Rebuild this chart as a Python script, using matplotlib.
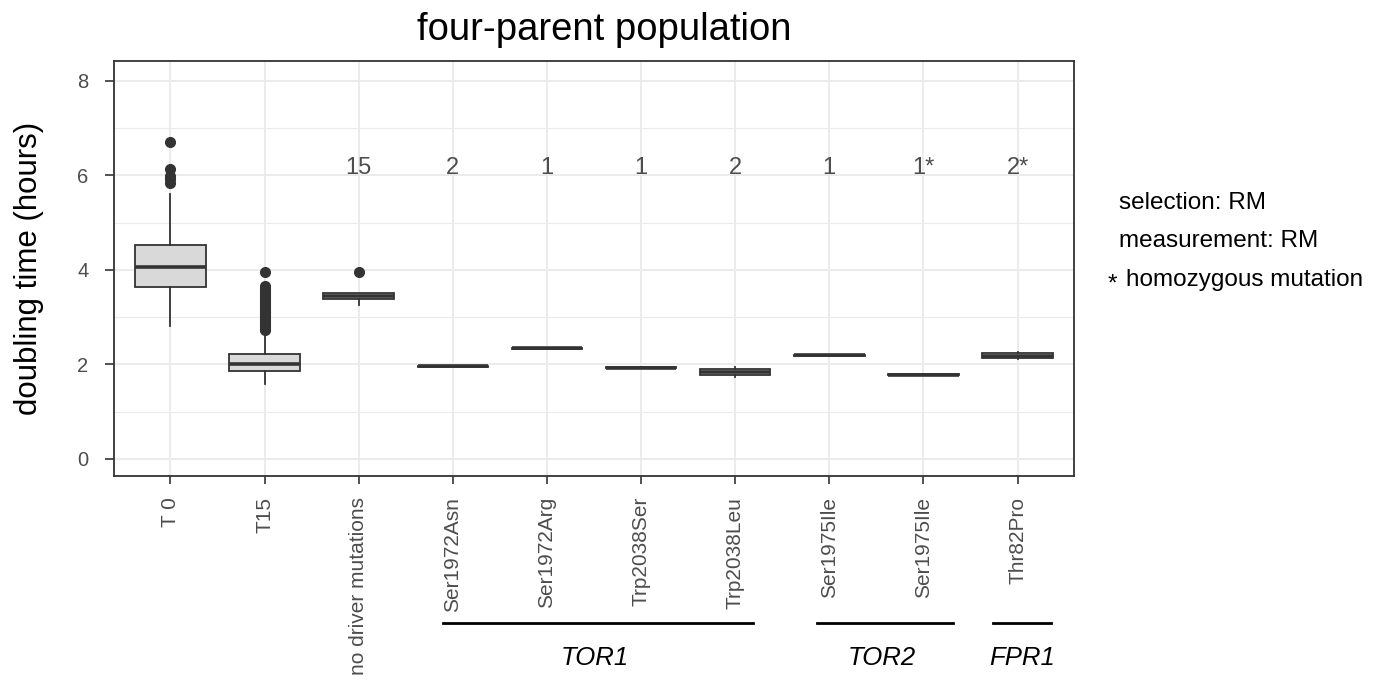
import matplotlib
matplotlib.use("Agg")
import matplotlib.pyplot as plt
import matplotlib.transforms as mtransforms

plt.rcParams['font.family'] = ['Liberation Sans', 'DejaVu Sans']

# categories and box statistics
labels = ["T 0", "T15", "no driver mutations", "Ser1972Asn", "Ser1972Arg",
          "Trp2038Ser", "Trp2038Leu", "Ser1975Ile", "Ser1975Ile", "Thr82Pro"]
q1 = [3.64, 1.86, 3.38, 1.95, 2.33, 1.92, 1.77, 2.18, 1.77, 2.13]
med = [4.06, 2.00, 3.45, 1.96, 2.34, 1.93, 1.84, 2.19, 1.78, 2.18]
q3 = [4.52, 2.22, 3.51, 1.97, 2.35, 1.94, 1.91, 2.20, 1.79, 2.24]
whis_lo = [2.82, 1.59, 3.25, 1.95, 2.33, 1.92, 1.74, 2.18, 1.77, 2.11]
whis_hi = [5.61, 2.68, 3.52, 1.97, 2.35, 1.94, 1.95, 2.20, 1.79, 2.27]
t0_out = [5.84, 5.92, 5.99, 6.14, 6.71]
t15_out = [2.73, 2.76, 2.79, 2.82, 2.85, 2.88, 2.91, 2.94, 2.97, 3.00, 3.03,
           3.06, 3.09, 3.12, 3.15, 3.18, 3.21, 3.24, 3.27, 3.30, 3.33, 3.36,
           3.40, 3.44, 3.48, 3.52, 3.57, 3.62, 3.66, 3.95]
nodriver_out = [3.95]
counts = ["", "", "15", "2", "1", "1", "2", "1", "1*", "2*"]
genes = ["TOR1", "TOR2", "FPR1"]

fliers = [t0_out, t15_out, nodriver_out] + [[]] * 7

stats = []
for i in range(len(labels)):
    stats.append(dict(q1=q1[i], med=med[i], q3=q3[i], whislo=whis_lo[i],
                      whishi=whis_hi[i], fliers=fliers[i]))

fig = plt.figure(figsize=(13.97, 6.8), dpi=100)
ax = fig.add_axes([0.0816, 0.30, 0.6872, 0.6103])

dark = "#333333"
pos = list(range(1, len(labels) + 1))
ax.bxp(stats, positions=pos, widths=0.75, patch_artist=True, showcaps=False,
       boxprops=dict(facecolor="#D9D9D9", edgecolor=dark, linewidth=1.3),
       medianprops=dict(color=dark, linewidth=2.6),
       whiskerprops=dict(color=dark, linewidth=1.3),
       flierprops=dict(marker="o", markerfacecolor=dark, markeredgecolor=dark,
                       markersize=7),
       zorder=3)

ax.set_xlim(0.4, 10.6)
ax.set_ylim(-0.36, 8.42)
ax.set_yticks([0, 2, 4, 6, 8])
ax.set_yticks([1, 3, 5, 7], minor=True)
ax.set_xticks(pos)
ax.set_xticklabels(labels, rotation=90, fontsize=15, color="#4D4D4D")
ax.tick_params(axis="y", which="major", labelsize=14.5, labelcolor="#4D4D4D",
               color=dark, length=6.5, width=1.2, pad=12)
ax.tick_params(axis="y", which="minor", length=0)
ax.tick_params(axis="x", color=dark, length=6, width=1.2, pad=9)

ax.grid(which="major", color="#EBEBEB", linewidth=1.4, zorder=0)
ax.grid(which="minor", axis="y", color="#EBEBEB", linewidth=0.8, zorder=0)
ax.set_axisbelow(True)
for s in ax.spines.values():
    s.set_color(dark)
    s.set_linewidth(1.3)

for p, c in zip(pos, counts):
    if c:
        ax.text(p, 6.15, c, ha="center", va="center", fontsize=17,
                color="#4D4D4D")

ax.set_title("four-parent population", fontsize=27.5, pad=15, x=0.511)
ax.set_ylabel("doubling time (hours)", fontsize=22.5, labelpad=24)

# gene group brackets under the tick labels
trans = mtransforms.blended_transform_factory(ax.transData, fig.transFigure)
spans = [(3.896, 7.19), (7.87, 9.31), (9.74, 10.36)]
gene_x = [5.51, 8.56, 10.05]
line_y = 1 - 622.5 / 680
for (a, b), g, gx in zip(spans, genes, gene_x):
    ax.plot([a, b], [line_y, line_y], color="black", linewidth=2,
            transform=trans, clip_on=False)
    fig.text(gx, 1 - 658 / 680, g, transform=trans, ha="center", va="center",
             fontsize=18.5, style="italic")

fig.text(1119 / 1397, 1 - 203 / 680, "selection: RM", fontsize=17.5,
         va="center")
fig.text(1119 / 1397, 1 - 241 / 680, "measurement: RM", fontsize=17.5,
         va="center")
fig.text(1112 / 1397, 1 - 285 / 680, "*", fontsize=17.5, va="center",
         ha="center")
fig.text(1126 / 1397, 1 - 280 / 680, "homozygous mutation", fontsize=17.5,
         va="center")

fig.savefig("out.png", dpi=100)
